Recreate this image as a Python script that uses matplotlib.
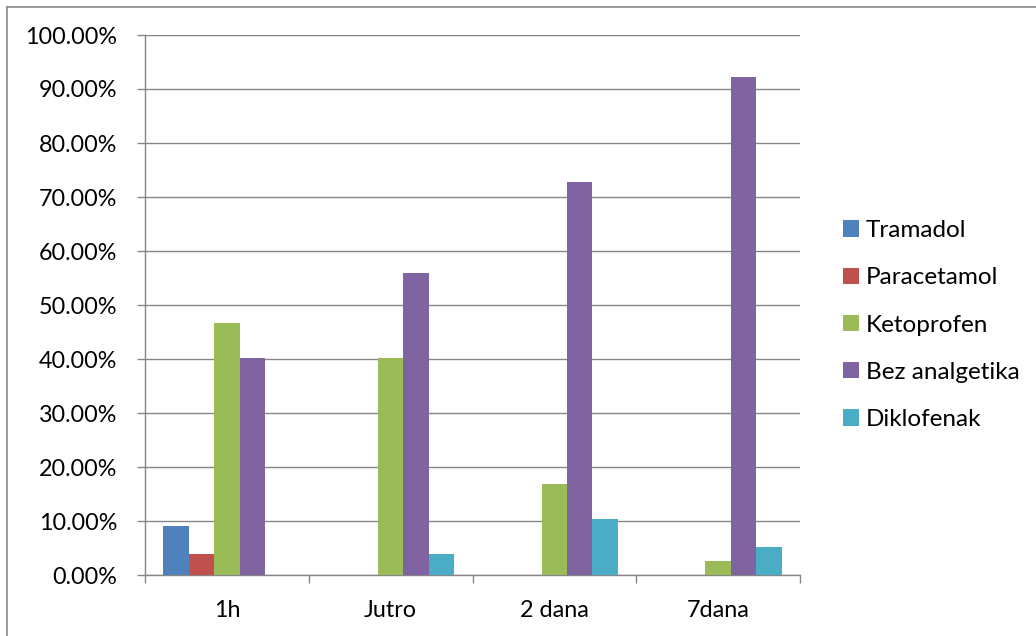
import matplotlib
matplotlib.use("Agg")
import matplotlib.pyplot as plt
from matplotlib.lines import Line2D
from matplotlib.patches import Patch
import numpy as np

categories = ["1h", "Jutro", "2 dana", "7dana"]
series_names = ["Tramadol", "Paracetamol", "Ketoprofen", "Bez analgetika", "Diklofenak"]
tramadol = [9.09, 0.0, 0.0, 0.0]
paracetamol = [3.90, 0.0, 0.0, 0.0]
ketoprofen = [46.75, 40.26, 16.88, 2.60]
bez_analgetika = [40.26, 55.84, 72.73, 92.21]
diklofenak = [0.0, 3.90, 10.39, 5.19]
yticks = [0, 10, 20, 30, 40, 50, 60, 70, 80, 90, 100]

colors = ["#4F81BD", "#C0504D", "#9BBB59", "#8064A2", "#4BACC6"]
series = [tramadol, paracetamol, ketoprofen, bez_analgetika, diklofenak]

plt.rcParams['font.family'] = ['Lato', 'DejaVu Sans']
FS = 16.8
LFS = 17.5
GRID = "#868686"

W, H = 1036, 636
fig = plt.figure(figsize=(W / 100, H / 100), dpi=100)
ax = fig.add_axes([145 / W, (H - 575) / H, 655 / W, 540 / H])

x = np.arange(len(categories))
bw = 0.155
for i, (vals, c, name) in enumerate(zip(series, colors, series_names)):
    ax.bar(x + (i - 2) * bw, vals, width=bw, color=c, linewidth=0, label=name, zorder=3)

ax.set_xlim(-0.5, len(categories) - 0.5)
ax.set_ylim(0, 100)
ax.set_yticks(yticks)
ax.set_yticklabels([f"{v:.2f}%" for v in yticks], fontsize=FS)
ax.yaxis.grid(True, color=GRID, linewidth=1.0, zorder=0)
ax.set_axisbelow(True)

ax.set_xticks(np.arange(-0.5, len(categories), 1.0))
ax.set_xticklabels([])
ax.set_xticks(x, minor=True)
ax.set_xticklabels(categories, minor=True, fontsize=FS)
ax.tick_params(axis='x', which='minor', length=0, pad=18)
ax.tick_params(axis='x', which='major', length=6, width=1.0, color=GRID, direction='out')
ax.tick_params(axis='y', length=6, width=1.0, color=GRID, direction='out', pad=14)

for s in ['top', 'right']:
    ax.spines[s].set_visible(False)
for s in ['left', 'bottom']:
    ax.spines[s].set_color(GRID)
    ax.spines[s].set_linewidth(1.0)

handles = [Patch(facecolor=c, edgecolor='none') for c in colors]
leg = fig.legend(handles, series_names, loc='center left',
                 bbox_to_anchor=(831 / W, (H - 325) / H), frameon=False,
                 fontsize=LFS, handlelength=0.65, handleheight=0.65,
                 handletextpad=0.27, labelspacing=1.08, borderpad=0)

# outer chart border (top and left edges visible)
fig.add_artist(Line2D([7 / W, 1.0], [(H - 7) / H, (H - 7) / H], transform=fig.transFigure,
                      color="#8a8a8a", linewidth=1.2))
fig.add_artist(Line2D([7 / W, 7 / W], [0, (H - 7) / H], transform=fig.transFigure,
                      color="#8a8a8a", linewidth=1.2))

fig.savefig("out.png", dpi=100, facecolor="white")
